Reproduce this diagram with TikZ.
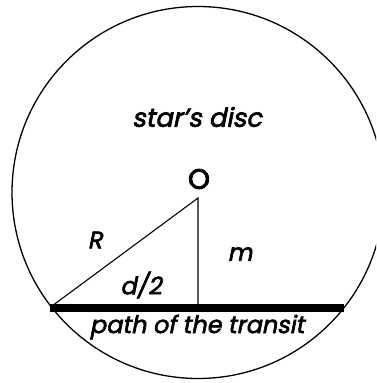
\documentclass[tikz,border=0pt]{standalone}
\usepackage{fontspec}
\newfontfamily\gothic[FakeSlant=0.2,FakeBold=2.5]{Poppins}
\newfontfamily\gothicup[FakeBold=3]{Poppins}

\begin{document}
\begin{tikzpicture}[x=1pt,y=1pt,yscale=-1]
\tikzset{lbl/.style={inner sep=0.75pt,font=\gothic\fontsize{24}{26}\selectfont}}
\useasboundingbox (0,0) rectangle (376,383);
\clip (0,0) rectangle (376,383);

%Circle [star's disc]
\draw [line width=1.3] (198,192.5) circle (186);

%Points
\coordinate (top) at (198,198);
\coordinate (foot) at (198,307);
\coordinate (left) at (52,306);
\coordinate (barL) at (50,307.5);
\coordinate (barR) at (344,307.5);

%Straight Lines [triangle]
\draw [line width=1.1] (left) -- (top) -- (foot);
%Straight Lines [transit]
\draw [line width=8] (barL) -- (barR);

% Text Node
\draw (197,117) node [lbl,font=\gothic\fontsize{26}{28}\selectfont] (disc) {star’s disc};
% Text Node
\draw (199,179) node [lbl,font=\gothicup\fontsize{28}{30}\selectfont] (centre) {O};
% Text Node
\draw (95,240) node [lbl] (radius) {R};
% Text Node
\draw (240,254) node [lbl] (dist) {m};
% Text Node
\draw (141,285) node [lbl] (half) {d/2};
% Text Node
\draw (197,327) node [lbl] (path) {path of the transit};
\end{tikzpicture}
\end{document}
